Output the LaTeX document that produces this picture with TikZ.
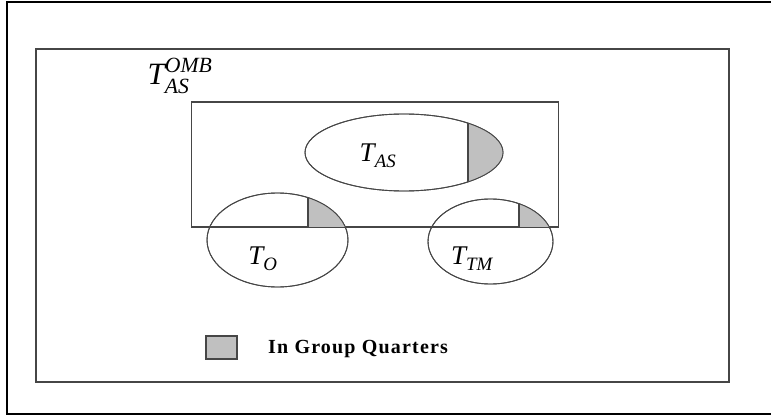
\documentclass[tikz,border=0pt]{standalone}
\usepackage{fontspec}
\setmainfont{Liberation Serif}
\usetikzlibrary{shapes.geometric}
\definecolor{gq}{RGB}{192,192,192}
\definecolor{edge}{RGB}{70,70,70}
\tikzset{
  frame/.style={draw=edge, line width=1.3pt},
  set/.style={ellipse, draw=edge, line width=0.9pt, inner sep=0pt},
  setlabel/.style={font=\fontsize{27}{30}\selectfont},
}
\begin{document}
\begin{tikzpicture}[x=1pt,y=-1pt]
\useasboundingbox (0,0) rectangle (771,417);
\clip (0,0) rectangle (771,417);
\fill[white] (0,0) rectangle (771,417);
\draw[line width=2.5pt] (7,2) rectangle (780,414);
\node[frame, minimum width=693pt, minimum height=333pt, inner sep=0pt] (universe) at (382.5,215.5) {};
\node[frame, minimum width=367pt, minimum height=125pt, inner sep=0pt] (omb) at (375,164.5) {};
\node[set, minimum width=198pt, minimum height=77pt] (tas) at (404,152.5) {};
\node[set, minimum width=141pt, minimum height=94pt] (to) at (277.5,240) {};
\node[set, minimum width=125pt, minimum height=85pt] (ttm) at (490.5,241.5) {};
\begin{scope}
\clip (tas.center) ellipse [x radius=99, y radius=38.5];
\fill[gq] (468,100) rectangle (520,200);
\draw[edge, line width=1.3pt] (468,100) -- (468,200);
\end{scope}
\begin{scope}
\clip (to.center) ellipse [x radius=70.5, y radius=47];
\fill[gq] (308,180) rectangle (360,228);
\draw[edge, line width=1.3pt] (308,180) -- (308,228);
\end{scope}
\begin{scope}
\clip (ttm.center) ellipse [x radius=62.5, y radius=42.5];
\fill[gq] (519,180) rectangle (560,228);
\draw[edge, line width=1.3pt] (519,180) -- (519,228);
\end{scope}
\draw[frame] (omb.south west) -- (omb.south east);
\draw[edge, line width=0.9pt] (tas.center) ellipse [x radius=99, y radius=38.5];
\draw[edge, line width=0.9pt] (to.center) ellipse [x radius=70.5, y radius=47];
\draw[edge, line width=0.9pt] (ttm.center) ellipse [x radius=62.5, y radius=42.5];
\node[setlabel, font=\fontsize{31}{34}\selectfont] (lomb) at (180,76) {$\mathit{T}^{\raisebox{2pt}{$\scriptstyle\mathit{OMB}$}}_{\raisebox{-3pt}{$\scriptstyle\mathit{AS}$}}$};
\node[setlabel] (las) at (378,156) {$\mathit{T}_{\raisebox{-2pt}{$\scriptstyle\mathit{AS}$}}$};
\node[setlabel] (lo) at (263,259) {$\mathit{T}_{\raisebox{-2pt}{$\scriptstyle\mathit{O}$}}$};
\node[setlabel] (ltm) at (472,259) {$\mathit{T}_{\raisebox{-2pt}{$\scriptstyle\mathit{TM}$}}$};
\node[frame, fill=gq, minimum width=31pt, minimum height=23pt, inner sep=0pt] (key) at (221.5,347.5) {};
\node[anchor=west, inner sep=0pt, font=\fontsize{20}{22}\selectfont\bfseries\addfontfeatures{LetterSpace=6}] (keytext) at (268,349) {In Group Quarters};
\end{tikzpicture}
\end{document}
